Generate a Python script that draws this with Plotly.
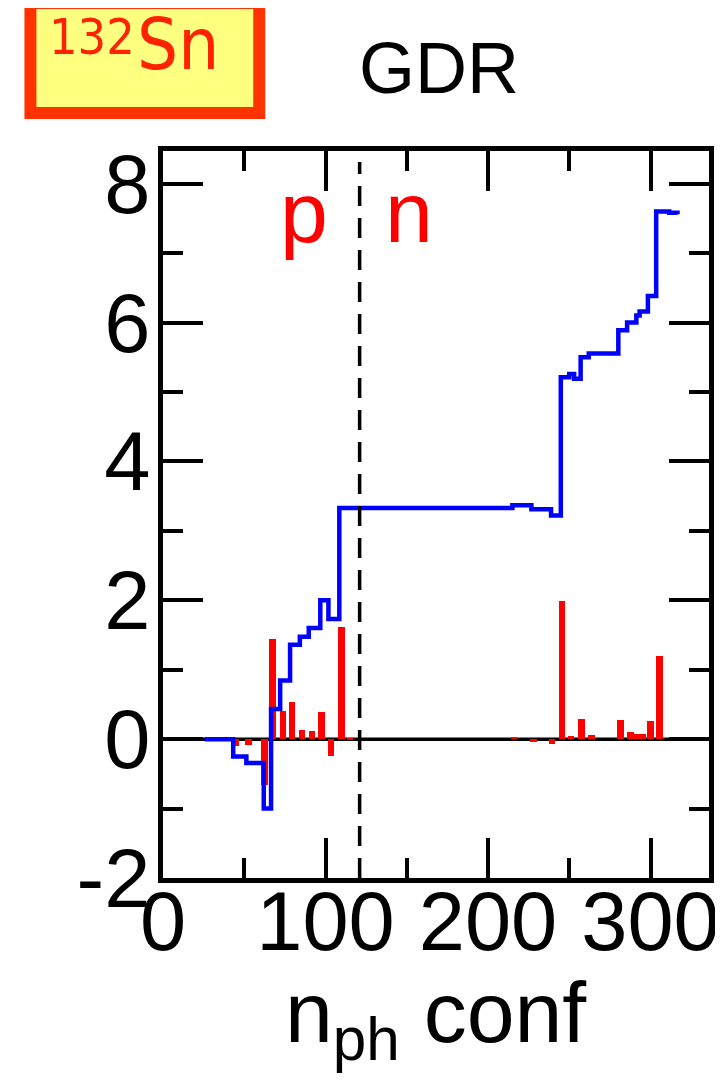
import plotly.graph_objects as go

# Blue running-sum step line (x = configuration index where the step starts, y = level)
blue_x = [25.6, 43.2, 51.3, 62.0, 66.5, 72.1, 78.2, 84.2, 89.7, 96.8, 101.8, 108.5,
          215.0, 226.7, 238.8, 244.8, 250.0, 253.0, 257.0, 262.0, 280.2, 285.6,
          291.3, 293.3, 298.4, 303.5, 311.5, 316.6]
blue_y = [0.0, -0.25, -0.345, -1.0, 0.435, 0.845, 1.36, 1.475, 1.6, 2.0, 1.73, 3.33,
          3.37, 3.31, 3.22, 5.21, 5.26, 5.19, 5.50, 5.555, 5.89, 6.0,
          6.10, 6.16, 6.38, 7.60, 7.58, 7.56]

# Red bars (individual contributions)
red_x = [45.0, 52.5, 62.5, 67.5, 73.8, 79.5, 85.5, 91.7, 97.6, 103.4, 109.7, 115.0,
         216.0, 228.0, 239.5, 245.5, 251.0, 257.6, 263.6, 281.4, 287.6, 292.0,
         295.5, 300.0, 305.5]
red_y = [-0.10, -0.09, -0.66, 1.44, 0.40, 0.53, 0.135, 0.115, 0.39, -0.25, 1.62, 0.02,
         0.03, -0.04, -0.07, 1.99, 0.04, 0.29, 0.06, 0.28, 0.10, 0.08,
         0.07, 0.26, 1.20]

x_ticks = [0, 100, 200, 300]
y_ticks = [-2, 0, 2, 4, 6, 8]
x_range = [0, 336]
y_range = [-2, 8.47]
pn_split = 121

FONT = "Liberation Sans, Arial, Helvetica, sans-serif"
BOXFONT = "DejaVu Sans Condensed, DejaVu Sans, sans-serif"

fig = go.Figure()
fig.add_trace(go.Bar(x=red_x, y=red_y, width=4, marker=dict(color="#FF0000", line=dict(width=0)),
                     showlegend=False))
fig.add_trace(go.Scatter(x=blue_x, y=blue_y, mode="lines", line=dict(color="#0000FF", width=4.5, shape="hv"),
                         showlegend=False))

axis_common = dict(showline=True, linecolor="black", linewidth=5, mirror="ticks",
                   ticks="inside", tickcolor="black", tickwidth=4, ticklen=40,
                   showgrid=False, zeroline=False,
                   tickfont=dict(family=FONT, size=83, color="black"))

fig.update_xaxes(range=x_range, tickvals=x_ticks, ticktext=[str(v) for v in x_ticks],
                 ticklabelstandoff=-33,
                 minor=dict(ticks="inside", ticklen=20, tickwidth=4, tickcolor="black", dtick=50, tick0=0),
                 **axis_common)
fig.update_yaxes(range=y_range, tickvals=y_ticks, ticktext=[str(v) for v in y_ticks],
                 ticklabelstandoff=-9,
                 minor=dict(ticks="inside", ticklen=20, tickwidth=4, tickcolor="black", dtick=1, tick0=0),
                 **axis_common)

# zero line
fig.add_shape(type="line", xref="x", yref="y", x0=x_range[0], x1=x_range[1], y0=0, y1=0,
              line=dict(color="black", width=3.5), layer="below")
# p / n dashed separator
fig.add_shape(type="line", xref="x", yref="paper", x0=pn_split, x1=pn_split, y0=0, y1=0.985,
              line=dict(color="black", width=3.5, dash="20px,12px"))

# 132Sn box
fig.add_shape(type="rect", xref="paper", yref="paper", x0=-0.2428, x1=0.1763, y0=1.0523, y1=1.2036,
              line=dict(color="#FF3300", width=12), fillcolor="#FFFF80", layer="above")
fig.add_annotation(xref="paper", yref="paper", x=-0.1295, y=1.1568, xanchor="center", yanchor="middle",
                   text="132", showarrow=False, font=dict(family=BOXFONT, size=50, color="#FF2200"))
fig.add_annotation(xref="paper", yref="paper", x=0.027, y=1.1472, xanchor="center", yanchor="middle",
                   text="Sn", showarrow=False, font=dict(family=BOXFONT, size=72, color="#FF2200"))

fig.add_annotation(xref="paper", yref="paper", x=0.505, y=1.114, xanchor="center", yanchor="middle",
                   text="GDR", showarrow=False, font=dict(family=FONT, size=72, color="black"))

fig.add_annotation(xref="x", yref="y", x=87, y=7.59, text="p", showarrow=False,
                   font=dict(family=FONT, size=86, color="#FF0000"))
fig.add_annotation(xref="x", yref="y", x=151.5, y=7.59, text="n", showarrow=False,
                   font=dict(family=FONT, size=86, color="#FF0000"))

fig.add_annotation(xref="paper", yref="paper", x=0.5, y=-0.116, xanchor="center", yanchor="top",
                   text="n<sub>ph</sub> conf", showarrow=False,
                   font=dict(family=FONT, size=86, color="black"))

fig.update_layout(width=723, height=1086, margin=dict(l=155, r=12, t=143, b=216),
                  plot_bgcolor="white", paper_bgcolor="white", bargap=0)

fig.write_html("out.html")
